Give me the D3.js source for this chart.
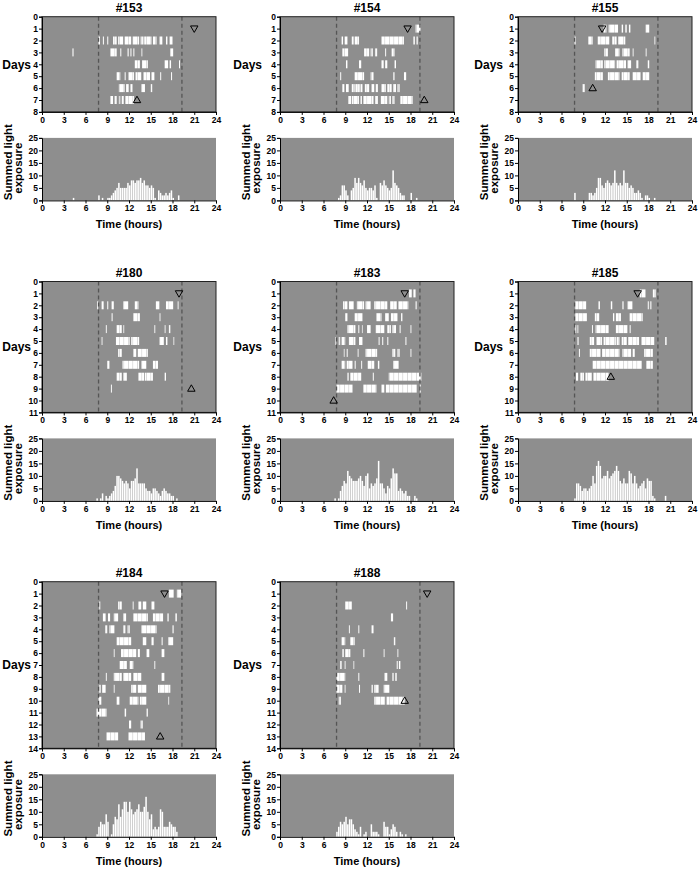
<!DOCTYPE html>
<html>
<head>
<meta charset="utf-8">
<script src="https://cdn.jsdelivr.net/npm/d3@7"></script>
<style>
  body { margin: 0; background: #fff; }
  svg text { font-family: "Liberation Sans", Arial, sans-serif; font-weight: bold; fill: #000; }
</style>
</head>
<body>
<div id="chart"></div>
<script>
// ---- data ----
const panelIds = ['#153', '#154', '#155', '#180', '#183', '#185', '#184', '#188'];
const panelDays = [8, 8, 8, 11, 11, 11, 14, 14];
const timeTicks = [0, 3, 6, 9, 12, 15, 18, 21, 24];
const lightTicks = [0, 5, 10, 15, 20, 25];
const dawnDusk = [7.8, 19.3];

// first recording day (day 1) marker and last day marker, in hours
const startHour = [21.0, 17.6, 11.6, 18.9, 17.2, 16.5, 16.9, 20.3];
const endDay = [7, 7, 6, 9, 10, 8, 13, 10];
const endHour = [13.1, 19.9, 10.3, 20.6, 7.4, 12.8, 16.3, 17.2];

// light bouts per day (day 1 first), [start, end] in hours
const bouts153 = [
  [],
  [[7.8,8.0],[8.4,8.5],[9.0,9.1],[9.8,10.3],[10.5,11.2],[11.4,12.3],[12.5,13.4],[13.6,14.0],[14.1,15.1],[15.3,15.8],[16.2,16.6],[17.1,17.3],[17.6,18.0]],
  [[4.2,4.35],[9.4,10.3],[10.8,10.9],[11.8,12.0],[12.2,12.3],[12.6,12.7],[13.7,13.8],[17.7,18.1]],
  [[12.8,13.5],[13.8,14.6],[16.9,17.4],[17.6,17.8],[18.9,19.0]],
  [[10.3,10.8],[11.4,11.5],[11.9,12.7],[12.9,13.7],[14.0,14.9],[15.1,15.5],[16.3,16.4],[17.8,17.9]],
  [[10.6,11.4],[11.6,12.0],[12.2,12.5],[13.7,14.2],[15.0,15.2]],
  [[9.4,9.8],[10.0,10.3],[10.6,10.8],[11.0,11.3],[11.5,12.7]]
];
const bouts154 = [
  [[18.7,19.4]],
  [[8.5,8.7],[8.9,9.3],[9.9,10.2],[10.3,10.9],[14.0,17.1],[18.4,18.6],[18.8,19.0]],
  [[8.6,9.4],[11.6,12.3],[12.5,12.8],[13.1,13.4],[14.5,14.6],[15.4,15.8]],
  [[9.1,9.3],[10.9,11.2],[14.0,14.3],[14.5,14.8],[15.8,16.0]],
  [[8.3,8.4],[10.3,11.6],[12.5,12.9],[15.6,15.8],[17.1,17.4]],
  [[8.6,8.9],[9.1,9.5],[9.9,10.3],[10.4,11.0],[11.1,11.4],[11.7,12.3],[12.6,13.0],[13.2,13.5],[14.0,14.6],[14.8,15.4],[15.6,16.0],[16.2,16.5]],
  [[9.4,9.8],[9.9,10.9],[11.1,11.3],[11.5,12.9],[13.1,13.5],[13.9,14.8],[15.0,15.3],[15.5,15.8],[16.6,18.3]]
];
const bouts155 = [
  [[11.8,12.2],[12.5,13.8],[14.3,14.5],[14.8,15.0],[15.3,15.5],[17.6,18.1]],
  [[7.8,7.95],[9.7,10.3],[11.0,12.6],[13.0,13.6],[13.8,14.8],[18.8,18.9]],
  [[11.9,12.4],[13.4,14.0],[14.4,15.4],[15.8,15.9],[17.6,17.7]],
  [[10.7,11.7],[11.9,13.4],[13.6,14.9],[15.1,15.6],[16.3,16.6],[17.9,18.1]],
  [[10.6,11.7],[12.4,14.0],[14.3,15.4],[15.8,16.9],[17.2,18.1]],
  [[8.9,9.2]]
];
const bouts180 = [
  [],
  [[7.6,7.7],[8.2,8.5],[9.0,9.1],[9.6,9.9],[11.2,11.9],[12.8,13.3],[15.7,16.2],[17.1,18.1],[18.7,18.8]],
  [[9.6,9.7],[12.6,13.5],[16.2,16.3]],
  [[8.8,8.9],[10.3,11.0],[11.2,11.3],[15.5,15.6],[16.9,17.0],[17.5,17.7]],
  [[8.2,8.3],[10.2,12.1],[12.3,13.4],[16.2,16.8],[17.1,17.3],[18.1,18.2]],
  [[10.5,11.0],[12.6,13.0],[13.2,14.6]],
  [[9.0,9.3],[11.1,13.4],[13.7,14.4],[15.3,16.0]],
  [[10.3,11.0],[11.2,11.7],[13.3,14.1],[14.2,15.3],[16.9,17.1]],
  [[9.5,9.6]]
];
const bouts183 = [
  [[17.8,18.2],[18.4,18.7]],
  [[8.7,9.3],[9.5,10.2],[10.6,11.6],[11.8,12.5],[13.0,14.8],[15.2,16.1],[16.3,17.7],[18.7,18.9]],
  [[9.0,9.3],[10.3,11.4],[13.3,14.0],[14.5,15.0],[15.3,16.2],[16.7,16.9]],
  [[9.3,10.4],[10.8,10.9],[11.3,11.4],[12.0,12.5],[13.2,14.4],[14.8,15.3],[15.5,16.0],[16.5,16.6],[18.0,18.1]],
  [[7.6,7.7],[8.1,8.3],[8.5,9.0],[9.5,10.4],[10.9,11.4],[13.6,13.7],[14.1,14.2],[14.8,14.9],[17.3,17.4]],
  [[8.8,8.9],[9.2,9.3],[10.7,10.8],[11.8,13.4],[15.5,15.9],[16.2,16.5],[18.0,18.1]],
  [[8.5,9.0],[9.2,10.0],[10.3,10.4],[11.2,11.3],[12.1,13.0],[13.5,13.7],[15.6,16.4]],
  [[9.3,9.5],[9.7,11.2],[12.8,12.9],[15.0,19.5]],
  [[7.8,10.0],[11.5,13.3],[14.0,14.4],[14.6,18.9],[19.3,19.4]]
];
const bouts185 = [
  [[16.8,17.6],[18.6,19.0]],
  [[7.9,9.4],[11.1,11.3],[12.8,13.0],[14.4,14.6],[15.1,15.8],[17.9,18.0],[18.2,18.4]],
  [[7.9,9.5],[10.6,11.2],[13.1,13.3],[13.5,14.2],[15.4,17.2]],
  [[7.9,8.0],[8.2,8.3],[10.2,10.3],[10.7,12.5],[13.5,15.1],[15.4,15.5]],
  [[8.2,8.4],[9.9,10.5],[10.8,11.6],[11.8,13.5],[13.6,14.0],[14.3,15.0],[15.2,16.7],[17.0,18.8],[20.3,20.5]],
  [[8.4,8.5],[9.9,11.4],[11.6,14.0],[14.4,15.6],[15.8,16.1],[17.4,18.6]],
  [[10.3,17.1],[17.7,18.6]],
  [[8.0,8.3],[8.6,9.1],[9.3,10.2],[10.4,12.5]]
];
const bouts184 = [
  [[17.5,18.2],[18.6,19.2]],
  [[7.9,8.0],[10.5,11.0],[12.5,12.6],[13.3,13.7],[13.9,14.4],[15.1,15.5]],
  [[8.4,8.8],[9.1,9.4],[9.9,10.5],[11.2,11.6],[12.6,14.6],[15.3,16.7],[17.3,17.5],[18.4,18.6]],
  [[8.7,9.0],[9.3,10.0],[11.2,11.5],[11.8,12.1],[13.7,15.8],[18.0,18.2]],
  [[10.3,12.3],[13.9,14.4],[15.1,15.4],[16.5,16.6],[17.4,18.1]],
  [[9.9,10.0],[10.9,13.0],[13.2,13.5],[14.4,14.8],[16.5,16.9]],
  [[10.7,11.7],[12.1,12.6],[15.5,15.6]],
  [[8.8,8.9],[9.9,11.0],[11.2,12.3],[12.6,13.7],[16.5,16.9]],
  [[7.9,8.1],[8.3,8.8],[9.9,10.0],[12.3,13.0],[13.2,14.4],[16.0,17.7]],
  [[7.8,8.2],[10.3,10.7],[12.1,13.3],[13.5,14.4],[17.4,17.5]],
  [[7.5,8.9],[11.4,11.6],[14.4,14.6]],
  [[12.0,12.3],[13.6,13.9]],
  [[8.9,10.5],[11.9,14.2]]
];
const bouts188 = [
  [],
  [[9.0,9.9],[17.4,17.5]],
  [[15.3,15.6]],
  [[9.5,9.6],[10.8,10.9],[12.6,12.9]],
  [[8.5,9.0],[9.7,10.3],[15.7,15.9]],
  [[8.6,8.8],[9.0,9.7],[11.5,11.6],[14.3,14.4],[16.2,16.3]],
  [[8.3,8.5],[8.9,9.0],[10.1,10.2],[16.1,16.2],[16.4,16.6]],
  [[7.8,9.0],[10.8,10.9],[14.4,14.8],[15.5,15.7],[15.9,16.1]],
  [[7.8,8.6],[8.9,9.0],[10.9,11.0],[12.6,12.8],[13.0,13.6],[14.3,15.1]],
  [[8.1,8.4],[13.0,14.5],[14.7,17.2]]
];

// summed light exposure in 15-min bins, first bin starts at histStart
const histStart = [4.25, 8.0, 7.75, 7.5, 7.5, 7.75, 7.5, 7.75];
const light153 = [1,0,0,0,0,0,0,0,0,0,0,0,0,0,2,0,1,0,0,1,1,2,3,4,5,7,5,5,5,5,7,6,8,8,7,8,8,9,7,8,6,6,5,6,5,1,0,4,3,2,2,3,2,3,4,1,0,0,2];
const light154 = [1,2,6,6,4,2,0,4,5,9,7,9,7,6,8,5,4,5,5,4,6,1,0,7,6,8,6,5,4,5,12,7,6,5,3,2,2,0,0,0,3,0,0,1];
const light155 = [3,0,0,0,0,0,0,0,3,3,2,3,5,9,9,6,5,7,8,7,6,7,12,7,6,7,6,12,7,7,5,6,5,3,3,4,3,1,0,2,2,1,0,0,1];
const light180 = [1,0,1,3,0,2,1,2,3,4,6,10,10,9,8,7,8,7,5,8,8,9,13,7,7,7,7,5,4,4,3,5,5,4,3,2,4,5,4,3,3,2,2,0,1];
const light183 = [1,0,1,4,6,8,7,12,10,9,8,8,8,9,10,8,6,10,11,5,7,6,7,9,16,7,7,5,3,6,5,9,13,11,11,4,5,4,3,4,2,2,0,0,2,1];
const light185 = [1,7,7,6,4,5,5,4,5,6,10,7,14,16,14,9,10,10,12,9,10,11,12,14,12,8,7,9,7,7,12,11,7,10,7,5,6,7,8,5,9,8,8,2,1,0,0,0,0,0,2];
const light184 = [1,4,6,5,5,9,6,0,1,5,8,7,13,8,11,14,14,10,14,11,9,10,11,13,10,10,12,16,10,7,9,3,4,3,4,11,10,4,4,4,6,5,4,4,2];
const light188 = [2,4,6,5,6,8,5,7,7,5,3,2,1,4,0,1,2,0,0,5,2,2,2,1,0,0,6,4,4,1,3,5,4,2,0,2,1,0,1];

const boutsAll = [bouts153, bouts154, bouts155, bouts180, bouts183, bouts185, bouts184, bouts188];
const lightAll = [light153, light154, light155, light180, light183, light185, light184, light188];

// ---- layout ----
const width = 700, height = 869;
const colLeft = [42, 280, 518];
const rowTop = [16.7, 281.5, 581.7];
const daysGap = [11, 18, 15];
const plotW = 174, dayH = 11.9, barH = 8, histGap = 26, histH = 62.5, binW = 0.25;
const bg = '#8e8e8e';

const svg = d3.select('#chart').append('svg')
  .attr('width', width)
  .attr('height', height);

// streaky fill for the light bouts (minute-level on/off in the original)
const pat = svg.append('defs').append('pattern')
  .attr('id', 'lit')
  .attr('patternUnits', 'userSpaceOnUse')
  .attr('width', 9).attr('height', 8);
pat.append('rect').attr('width', 9).attr('height', 8).attr('fill', '#fff');
pat.append('rect').attr('x', 2).attr('width', 0.8).attr('height', 8).attr('fill', '#d2d2d2');
pat.append('rect').attr('x', 6).attr('width', 1.2).attr('height', 8).attr('fill', '#e6e6e6');

function styleAxis(g) {
  g.selectAll('path').attr('stroke', '#000').attr('stroke-width', 1);
  g.selectAll('line').attr('stroke', '#000');
  g.selectAll('text').attr('font-size', 8.5).attr('fill', '#000')
    .style('font-family', '"Liberation Sans", Arial, sans-serif').style('font-weight', 'bold');
}

panelIds.forEach((id, i) => {
  const col = i % 3, row = Math.floor(i / 3);
  const left = colLeft[col], top = rowTop[row];
  const nDays = panelDays[i];
  const g = svg.append('g');

  const x = d3.scaleLinear().domain([0, 24]).range([left, left + plotW]);
  const y = d3.scaleLinear().domain([0, nDays]).range([top, top + nDays * dayH]);

  // actogram
  g.append('rect')
    .attr('x', x(0)).attr('y', y(0))
    .attr('width', x(24) - x(0)).attr('height', y(nDays) - y(0))
    .attr('fill', bg);

  const days = boutsAll[i].map((b, k) => ({ day: k + 1, bouts: b }));
  g.append('g').selectAll('g')
    .data(days)
    .enter()
    .append('g')
    .selectAll('rect')
    .data(d => d.bouts.map(b => ({ day: d.day, s: b[0], e: b[1] })))
    .enter()
    .append('rect')
      .attr('x', d => x(d.s))
      .attr('y', d => y(d.day) - barH / 2)
      .attr('width', d => Math.max(x(d.e) - x(d.s), 1))
      .attr('height', barH)
      .attr('fill', 'url(#lit)');

  g.selectAll('line.dusk')
    .data(dawnDusk)
    .enter()
    .append('line')
      .attr('x1', d => x(d)).attr('x2', d => x(d))
      .attr('y1', y(0)).attr('y2', y(nDays))
      .attr('stroke', '#555').attr('stroke-width', 1.3)
      .attr('stroke-dasharray', '4,3');

  g.append('rect')
    .attr('x', x(0)).attr('y', y(0))
    .attr('width', x(24) - x(0)).attr('height', y(nDays) - y(0))
    .attr('fill', 'none').attr('stroke', '#222').attr('stroke-width', 1);

  const marks = [
    { h: startHour[i], d: 1, rot: 180 },
    { h: endHour[i], d: endDay[i], rot: 0 }
  ];
  g.selectAll('path.mark')
    .data(marks)
    .enter()
    .append('path')
      .attr('d', d3.symbol(d3.symbolTriangle, 24))
      .attr('transform', d => `translate(${x(d.h)},${y(d.d) + (d.rot ? -0.5 : 0.5)}) rotate(${d.rot})`)
      .attr('fill', 'none').attr('stroke', '#000').attr('stroke-width', 1);

  g.append('g')
    .attr('transform', `translate(${x(0)},0)`)
    .call(d3.axisLeft(y).tickValues(d3.range(0, nDays + 1)).tickSize(3).tickPadding(1).tickFormat(d3.format('d')))
    .call(styleAxis);
  g.append('g')
    .attr('transform', `translate(0,${y(nDays)})`)
    .call(d3.axisBottom(x).tickValues(timeTicks).tickSize(3).tickPadding(2))
    .call(styleAxis);

  g.append('text')
    .attr('x', x(12)).attr('y', top - 5)
    .attr('text-anchor', 'middle').attr('font-size', 12)
    .text(id);

  g.append('text')
    .attr('x', left - daysGap[col]).attr('y', y(nDays / 2))
    .attr('dy', '0.35em')
    .attr('text-anchor', 'end').attr('font-size', 12)
    .text('Days');

  // summed light histogram
  const hTop = y(nDays) + histGap;
  const hy = d3.scaleLinear().domain([0, 25]).range([hTop + histH, hTop]);

  g.append('rect')
    .attr('x', x(0)).attr('y', hTop)
    .attr('width', x(24) - x(0)).attr('height', histH)
    .attr('fill', bg);

  const bins = lightAll[i].map((v, j) => ({ t: histStart[i] + j * binW, v: v })).filter(d => d.v > 0);
  g.append('g').selectAll('rect')
    .data(bins)
    .enter()
    .append('rect')
      .attr('x', d => x(d.t))
      .attr('y', d => hy(d.v))
      .attr('width', x(binW) - x(0) - 0.3)
      .attr('height', d => hy(0) - hy(d.v))
      .attr('fill', '#fff');

  g.append('g')
    .attr('transform', `translate(${x(0)},0)`)
    .call(d3.axisLeft(hy).tickValues(lightTicks).tickSize(3).tickPadding(1))
    .call(styleAxis);
  g.append('g')
    .attr('transform', `translate(0,${hy(0)})`)
    .call(d3.axisBottom(x).tickValues(timeTicks).tickSize(3).tickPadding(2))
    .call(styleAxis);

  const label = [{ t: 'Summed light', dx: -34, dy: -7 }, { t: 'exposure', dx: -24.5, dy: -1 }];
  g.selectAll('text.ylab')
    .data(label)
    .enter()
    .append('text')
      .attr('transform', d => `translate(${left + d.dx},${hTop + histH / 2 + d.dy}) rotate(-90)`)
      .attr('text-anchor', 'middle').attr('dy', '0.35em').attr('font-size', 11.5)
      .text(d => d.t);

  g.append('text')
    .attr('x', x(12)).attr('y', hy(0) + 28)
    .attr('text-anchor', 'middle').attr('font-size', 11)
    .text('Time (hours)');
});
</script>
</body>
</html>
